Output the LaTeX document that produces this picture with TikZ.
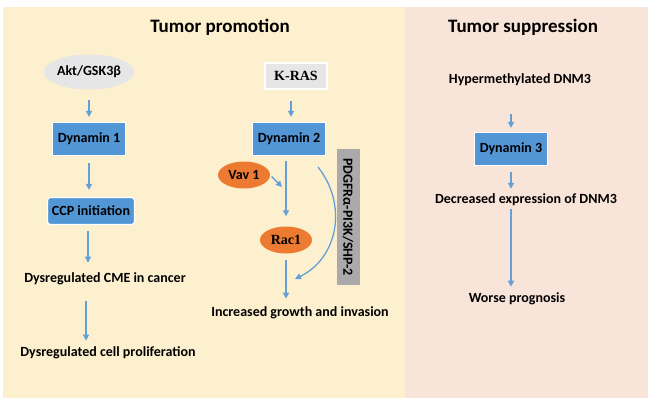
\documentclass[tikz,border=0pt]{standalone}
\usepackage{fontspec}
\setmainfont{Carlito}
\newfontfamily\rasfont{Liberation Serif}
\definecolor{promo}{RGB}{253,240,206}
\definecolor{suppr}{RGB}{249,228,217}
\definecolor{dyn}{RGB}{83,150,214}
\definecolor{arr}{RGB}{100,160,214}
\definecolor{akt}{RGB}{231,230,230}
\definecolor{vav}{RGB}{236,122,48}
\definecolor{axis}{RGB}{170,170,170}
\usetikzlibrary{
  positioning,      % relative placement
  shapes.geometric, % ellipse nodes
  arrows.meta       % arrow tips
}
\tikzset{
  x=1pt, y=-1pt,
  every node/.style = {
    font=\bfseries\fontsize{14}{16}\selectfont,
    inner sep=2pt
  },
  title/.style = {font=\bfseries\fontsize{19}{22}\selectfont},
  dynamin/.style = {rectangle, fill=dyn, draw=white, line width=1.2pt,
    minimum width=73pt, minimum height=33pt},
  ccp/.style = {dynamin, rounded corners=3pt, minimum width=87pt, minimum height=27pt},
  grayoval/.style = {ellipse, fill=akt, minimum width=79pt, minimum height=35pt, inner sep=0pt},
  graybox/.style = {rectangle, fill=akt, draw=white, line width=1.2pt,
    minimum width=62pt, minimum height=26pt, font=\rasfont\bfseries\fontsize{14}{16}\selectfont},
  orange/.style = {ellipse, fill=vav, minimum width=52pt, minimum height=27pt, inner sep=0pt},
  serif/.style = {font=\rasfont\bfseries\fontsize{14}{16}\selectfont},
  sidebar/.style = {rectangle, fill=axis, rotate=-90, minimum width=136pt,
    minimum height=23pt, inner sep=0pt},
  flow/.style = {draw=arr, line width=1.3pt, -{Triangle[length=6pt,width=6pt]}},
}

\begin{document}
\begin{tikzpicture}
\useasboundingbox (0,0) rectangle (650,404);
% panels
\fill[promo] (3,7) rectangle (405,398);
\fill[suppr] (405,7) rectangle (648,398);

\node[title] (tp) at (220,27) {Tumor promotion};
\node[title] (ts) at (523,27) {Tumor suppression};

% left column
\node[grayoval] (akt) at (89,72) {Akt/GSK3β};
\node[dynamin] (dyn1) at (89,139) {Dynamin 1};
\node[ccp] (ccp) at (91,211) {CCP initiation};
\node (cme) at (105,279) {Dysregulated CME in cancer};
\node (prolif) at (108,353) {Dysregulated cell proliferation};

\draw[flow, shorten <=10pt, shorten >=5pt] (akt) -- (dyn1);
\draw[flow, shorten <=7pt, shorten >=7pt] (dyn1.south) -- (dyn1.south |- ccp.north);
\draw[flow, shorten <=6pt, shorten >=8pt] (ccp.south -| 88,0) -- (cme.north -| 88,0);
\draw[flow, shorten <=14pt, shorten >=4pt] (cme.south -| 86,0) -- (prolif.north -| 86,0);

% middle column
\node[graybox] (kras) at (296,76) {K-RAS};
\node[dynamin] (dyn2) at (289,139) {Dynamin 2};
\node[orange] (vav) at (244,175) {Vav 1};
\node[orange, serif] (rac) at (286,240) {Rac1};
\node[sidebar] (pdgf) at (348,217) {PDGFRα-PI3K/SHP-2};
\node (grow) at (300,313) {Increased growth and invasion};

\coordinate (vavend) at (282,187);
\coordinate (curvein) at (318,167);
\coordinate (curveout) at (295,279);

\draw[flow, shorten <=11pt, shorten >=5pt] (kras.south -| 291,0) -- (dyn2.north -| 291,0);
\draw[flow, shorten <=5pt, shorten >=10pt] (rac.north |- dyn2.south) -- (rac.north);
\draw[flow, shorten <=2pt] (vav.east) -- (vavend);
\draw[flow, shorten <=6pt, shorten >=6pt] (rac.south) -- (rac.south |- grow.north);
\draw[flow] (curvein) .. controls (348,205) and (338,258) .. (curveout);

% right column
\node (hyper) at (520,80) {Hypermethylated DNM3};
\node[dynamin] (dyn3) at (511,149) {Dynamin 3};
\node (decr) at (526,200) {Decreased expression of DNM3};
\node (worse) at (517,299) {Worse prognosis};

\draw[flow, shorten <=26pt, shorten >=4pt] (dyn3.north |- hyper.south) -- (dyn3.north);
\draw[flow, shorten <=6pt, shorten >=3pt] (dyn3.south) -- (dyn3.south |- decr.north);
\draw[flow, shorten <=1pt, shorten >=4pt] (dyn3.south |- decr.south) -- (dyn3.south |- worse.north);
\end{tikzpicture}
\end{document}
